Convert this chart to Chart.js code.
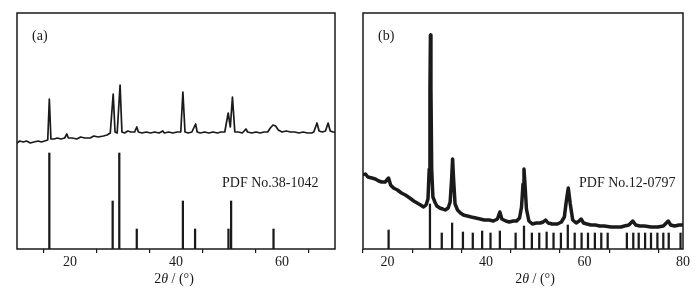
<!DOCTYPE html>
<html>
<head>
<meta charset="utf-8">
<script src="https://cdn.jsdelivr.net/npm/chart.js@4.4.0/dist/chart.umd.min.js"></script>
<style>
  html, body { margin: 0; padding: 0; background: #fff; }
  #wrap { position: relative; width: 700px; height: 308px; }
  .panel { position: absolute; top: 0; width: 350px; height: 308px; }
</style>
</head>
<body>
<div id="wrap">
  <div class="panel" style="left:0"><canvas id="chartA"></canvas></div>
  <div class="panel" style="left:350px"><canvas id="chartB"></canvas></div>
</div>
<script>
const FONT = "'Liberation Serif', 'Times New Roman', serif";
const INK = "#1a1a1a";

// (a) measured pattern, 2theta / intensity (arb.)
const angleA = [10.0, 10.5, 11.2, 11.8, 12.5, 13.2, 14.0, 14.6, 15.2, 15.8, 16.1, 16.4, 17.0, 17.6, 18.3, 19.0, 19.4, 19.7,
  20.4, 21.3, 22.0, 22.8, 23.8, 24.5, 25.3, 26.3, 27.0, 27.6, 28.15, 28.5, 28.9, 29.45, 29.8, 30.3, 30.9, 31.5, 32.2, 32.6,
  32.9, 33.6, 34.4, 35.2, 36.0, 36.8, 37.5, 37.8, 38.6, 39.4, 40.2, 40.9, 41.3, 41.7, 42.3, 43.0, 43.7, 44.0, 44.6, 45.4,
  46.2, 47.0, 47.8, 48.5, 49.2, 49.85, 50.25, 50.65, 51.1, 51.8, 52.5, 53.2, 53.5, 54.3, 55.1, 55.9, 56.6, 57.3, 57.8, 58.3,
  58.8, 59.3, 60.0, 60.8, 61.6, 62.4, 63.2, 64.0, 64.8, 65.6, 66.0, 66.6, 67.0, 67.6, 68.2, 68.7, 69.1, 69.6, 70.0];
const countsA = [106, 108, 107, 108, 106, 107, 108, 107, 108, 109, 150, 110, 110, 111, 110, 111, 115, 111,
  111, 110, 112, 111, 111, 113, 112, 113, 114, 116, 155, 117, 116, 164, 117, 116, 118, 117, 117, 122,
  117, 116, 117, 116, 117, 116, 118, 116, 117, 116, 117, 117, 157, 117, 116, 117, 125, 117, 116, 117,
  116, 117, 116, 117, 117, 136, 122, 152, 117, 117, 116, 120, 117, 116, 117, 116, 117, 117, 121, 124,
  123, 119, 117, 118, 117, 117, 116, 117, 116, 116, 117, 126, 118, 117, 118, 126, 118, 117, 117];

// (a) reference card PDF No.38-1042
const refAngleA = [16.1, 28.05, 29.3, 32.6, 41.3, 43.6, 49.9, 50.4, 58.4];
const refHeightA = [96, 48, 96, 20, 48, 20, 20, 48, 20];

// (b) measured pattern
const angleB = [15.0, 15.5, 16.0, 16.8, 17.5, 18.2, 18.8, 19.5, 20.2, 20.6, 21.2, 22.0, 22.8, 23.6, 24.5, 25.3, 26.0, 26.7,
  27.3, 27.8, 28.2, 28.45, 28.6, 28.7, 28.8, 28.95, 29.2, 29.6, 30.0, 30.6, 31.2, 31.7, 32.3, 32.7, 33.0, 33.2, 33.4, 33.7,
  34.2, 34.8, 35.4, 36.2, 37.0, 37.9, 38.8, 39.6, 40.6, 41.5, 42.3, 42.8, 43.2, 44.0, 44.7, 45.5, 46.2, 46.8, 47.2, 47.5,
  47.7, 47.9, 48.2, 48.7, 49.4, 50.2, 51.0, 51.6, 52.1, 52.6, 53.4, 54.5, 55.3, 55.9, 56.3, 56.7, 57.1, 57.6, 58.3, 58.9,
  59.3, 59.8, 60.5, 61.3, 62.2, 63.1, 64.0, 65.4, 66.5, 67.4, 68.1, 69.0, 69.8, 70.4, 71.2, 72.2, 73.5, 74.9, 76.0, 76.6,
  77.0, 77.5, 78.3, 79.2, 80.0];
const countsB = [74, 75, 72, 71, 70, 68, 67, 67, 71, 64, 61, 59, 56, 54, 51, 48, 46, 44,
  42, 44, 50, 80, 160, 214, 160, 80, 52, 47, 43, 41, 40, 39, 41, 47, 70, 90, 70, 45,
  39, 36, 34, 33, 32, 31, 30, 29, 29, 28, 30, 37, 30, 28, 27, 28, 28, 31, 42, 65,
  80, 65, 40, 28, 25, 26, 26, 27, 29, 26, 25, 25, 27, 32, 48, 61, 45, 29, 26, 28,
  30, 26, 25, 24, 24, 23, 23, 22, 22, 22, 23, 24, 28, 24, 23, 23, 22, 22, 23, 26,
  28, 24, 23, 24, 24];

// (b) reference card PDF No.12-0797
const refAngleB = [20.2, 28.6, 31.0, 33.1, 35.3, 37.3, 39.2, 40.9, 42.8, 46.0, 47.7, 49.3, 50.8, 52.3, 53.7, 55.2,
  56.6, 58.0, 59.4, 60.7, 62.1, 63.4, 64.7, 68.6, 69.9, 71.0, 72.3, 73.5, 74.8, 76.0, 77.1, 79.5];
const refHeightB = [19, 45, 16, 26, 17, 16, 18, 16, 18, 16, 23, 16, 16, 17, 16, 16,
  24, 16, 16, 16, 16, 16, 16, 16, 16, 16, 16, 16, 16, 16, 16, 16];

const ticksA = [20, 30, 40, 50, 60];
const ticksB = [20, 30, 40, 50, 60, 70, 80];

const toXY = (xs, ys) => xs.map((x, i) => ({ x, y: ys[i] }));

// frame box + panel letter + card label + axis title (with italic theta)
const decorPlugin = {
  id: "decor",
  afterDraw(chart, args, opts) {
    const { ctx, chartArea: a } = chart;
    ctx.save();
    ctx.strokeStyle = INK;
    ctx.lineWidth = 1.5;
    ctx.strokeRect(a.left, a.top, a.right - a.left, a.bottom - a.top);

    ctx.fillStyle = INK;
    ctx.textBaseline = "alphabetic";
    ctx.font = `14px ${FONT}`;
    ctx.fillText(opts.tag, a.left + 15, 40);
    ctx.fillText(opts.card, opts.cardX, 187);

    const parts = [["2", ""], ["\u03b8", "italic "], [" / (\u00b0)", ""]];
    let w = 0;
    parts.forEach(([t, st]) => { ctx.font = `${st}14px ${FONT}`; w += ctx.measureText(t).width; });
    let x = opts.titleX - w / 2;
    parts.forEach(([t, st]) => {
      ctx.font = `${st}14px ${FONT}`;
      ctx.fillText(t, x, 283);
      x += ctx.measureText(t).width;
    });
    ctx.restore();
  }
};

function makePanel(id, cfg) {
  const ctx = document.getElementById(id).getContext("2d");
  return new Chart(ctx, {
    type: "line",
    data: {
      datasets: [
        {
          type: "bar",
          data: toXY(cfg.refAngle, cfg.refHeight),
          backgroundColor: INK,
          barThickness: 1.6,
          order: 2,
        },
        {
          type: "line",
          data: toXY(cfg.angle, cfg.counts),
          borderColor: INK,
          borderWidth: cfg.lineWidth,
          borderJoinStyle: "round",
          pointRadius: 0,
          tension: 0,
          fill: false,
          order: 1,
        },
      ],
    },
    options: {
      responsive: true,
      maintainAspectRatio: false,
      animation: false,
      layout: { padding: cfg.padding },
      plugins: {
        legend: { display: false },
        tooltip: { enabled: false },
        decor: { tag: cfg.tag, card: cfg.card, cardX: cfg.cardX, titleX: cfg.titleX },
      },
      scales: {
        x: {
          type: "linear",
          min: cfg.min,
          max: cfg.max,
          offset: false,
          afterBuildTicks: (s) => { s.ticks = cfg.ticks.map((v) => ({ value: v })); },
          afterFit: (s) => { s.height = 59; },
          border: { display: false },
          grid: { drawOnChartArea: false, tickLength: 4, color: INK, lineWidth: 1.2 },
          ticks: {
            padding: 1,
            color: INK,
            font: { family: FONT, size: 14 },
            maxRotation: 0,
            autoSkip: false,
            callback: (v) => (v % 20 === 0 ? v : ""),
          },
        },
        y: { display: false, min: 0, max: 236 },
      },
    },
    plugins: [decorPlugin],
  });
}

makePanel("chartA", {
  angle: angleA, counts: countsA, refAngle: refAngleA, refHeight: refHeightA,
  min: 10, max: 70, ticks: ticksA, lineWidth: 1.7,
  padding: { left: 17, right: 15, top: 13, bottom: 0 },
  tag: "(a)", card: "PDF No.38-1042", cardX: 222, titleX: 174,
});

makePanel("chartB", {
  angle: angleB, counts: countsB, refAngle: refAngleB, refHeight: refHeightB,
  min: 15, max: 80, ticks: ticksB, lineWidth: 3.5,
  padding: { left: 13, right: 17, top: 13, bottom: 0 },
  tag: "(b)", card: "PDF No.12-0797", cardX: 229, titleX: 185,
});
</script>
</body>
</html>
